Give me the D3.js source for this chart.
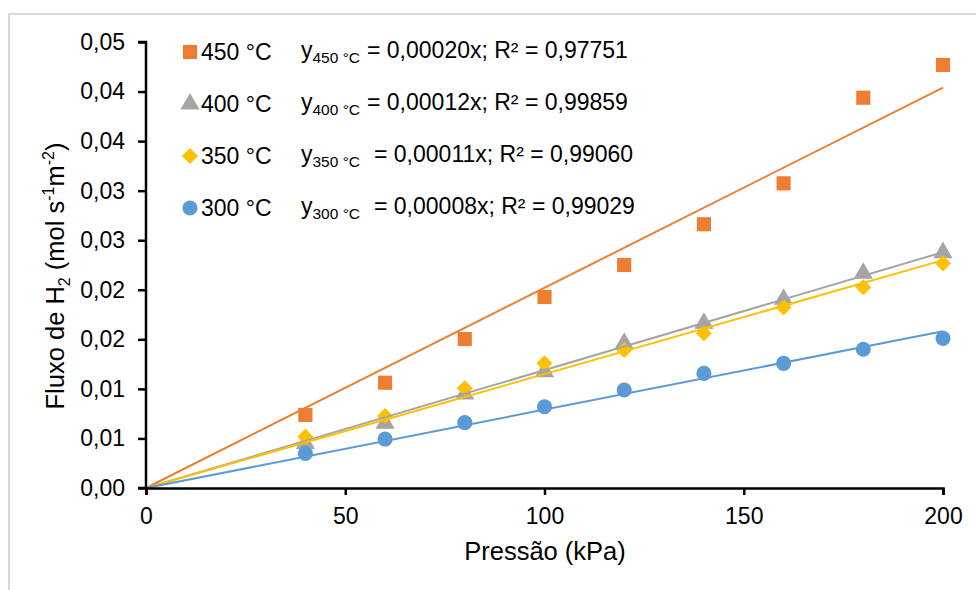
<!DOCTYPE html>
<html>
<head>
<meta charset="utf-8">
<script src="https://cdn.jsdelivr.net/npm/d3@7"></script>
<style>
  html, body { margin: 0; padding: 0; background: #fff; }
  svg { display: block; font-family: "Liberation Sans", Arial, sans-serif; }
</style>
</head>
<body>
<svg id="chart" width="976" height="590"></svg>
<script>
// ---- data ----
const pressures = [40, 60, 80, 100, 120, 140, 160, 180, 200];
const flux450 = [0.00737, 0.01062, 0.01503, 0.01927, 0.02250, 0.02661, 0.03074, 0.03938, 0.04268];
const flux400 = [0.00450, 0.00653, 0.00948, 0.01174, 0.01460, 0.01662, 0.01904, 0.02166, 0.02374];
const flux350 = [0.00518, 0.00726, 0.01006, 0.01258, 0.01392, 0.01561, 0.01823, 0.02025, 0.02267];
const flux300 = [0.00350, 0.00494, 0.00659, 0.00820, 0.00989, 0.01157, 0.01258, 0.01400, 0.01510];
const seriesNames = ["450 °C", "400 °C", "350 °C", "300 °C"];
const subscripts = ["450 °C", "400 °C", "350 °C", "300 °C"];
const equations = ["= 0,00020x; R² = 0,97751", "= 0,00012x; R² = 0,99859", "= 0,00011x; R² = 0,99060", "= 0,00008x; R² = 0,99029"];
const xTicks = [0, 50, 100, 150, 200];
const yTicks = [0, 0.005, 0.010, 0.015, 0.020, 0.025, 0.030, 0.035, 0.040, 0.045];
const yTickLabels = ["0,00", "0,01", "0,01", "0,02", "0,02", "0,03", "0,03", "0,04", "0,04", "0,05"];

// ---- styles ----
const colors = ["#ED7D31", "#A5A5A5", "#FFC000", "#5B9BD5"];
const symbols = [d3.symbolSquare, d3.symbolTriangle, d3.symbolSquare, d3.symbolCircle];
const rotations = [0, 0, 45, 0];
const symSizes = [200, 160, 130, 180];

const series = [flux450, flux400, flux350, flux300].map((vals, i) => ({
  name: seriesNames[i], color: colors[i], symbol: symbols[i], size: symSizes[i], rot: rotations[i],
  points: pressures.map((p, j) => ({x: p, y: vals[j]}))
}));
// least-squares slope through origin
series.forEach(s => {
  const sxy = d3.sum(s.points, d => d.x * d.y);
  const sxx = d3.sum(s.points, d => d.x * d.x);
  s.slope = sxy / sxx;
});

const svg = d3.select("#chart");
const x = d3.scaleLinear().domain([0, 200]).range([146, 943]);
const y = d3.scaleLinear().domain([0, 0.045]).range([488, 42]);

// frame
svg.append("rect").attr("x", 9).attr("y", 14).attr("width", 1000).attr("height", 620)
  .attr("fill", "#fff").attr("stroke", "#D9D9D9").attr("stroke-width", 2);

// markers (series order, later on top)
series.forEach(s => {
  svg.append("g").selectAll("path").data(s.points).join("path")
    .attr("transform", d => `translate(${x(d.x)},${y(d.y)}) rotate(${s.rot})`)
    .attr("d", d3.symbol().type(s.symbol).size(s.size))
    .attr("fill", s.color);
});

// trendlines
series.forEach(s => {
  svg.append("line")
    .attr("x1", x(0)).attr("y1", y(0))
    .attr("x2", x(200)).attr("y2", y(s.slope * 200))
    .attr("stroke", s.color).attr("stroke-width", 2);
});

// axes
const yAxis = d3.axisLeft(y).tickValues(yTicks).tickSize(8).tickPadding(13)
  .tickFormat((d, i) => yTickLabels[i]);
const gy = svg.append("g").attr("transform", `translate(${x(0)},0)`).call(yAxis);
const xAxis = d3.axisBottom(x).tickValues(xTicks).tickSize(7).tickPadding(13);
const gx = svg.append("g").attr("transform", `translate(0,${y(0)})`).call(xAxis);
[gx, gy].forEach(g => {
  g.select(".domain").attr("stroke", "#000").attr("stroke-width", 2.5);
  g.selectAll(".tick line").attr("stroke", "#000").attr("stroke-width", 2.5);
  g.selectAll(".tick text").attr("fill", "#000").attr("font-size", 23)
    .attr("font-family", "'Liberation Sans', Arial, sans-serif");
});
gy.select(".domain").attr("d", `M-8,${y(0)}H0V${y(0.045)}H-8`);

// axis titles
svg.append("text").attr("x", 545).attr("y", 560).attr("text-anchor", "middle")
  .attr("font-size", 25.5).attr("fill", "#000").text("Pressão (kPa)");

const yt = svg.append("text").attr("transform", "translate(64,276) rotate(-90)")
  .attr("text-anchor", "middle").attr("font-size", 25.5).attr("fill", "#000");
yt.append("tspan").text("Fluxo de H");
yt.append("tspan").attr("font-size", 16).attr("dy", 6).text("2");
yt.append("tspan").attr("dy", -6).text(" (mol s");
yt.append("tspan").attr("font-size", 16).attr("dy", -10).text("-1");
yt.append("tspan").attr("dy", 10).text("m");
yt.append("tspan").attr("font-size", 16).attr("dy", -10).text("-2");
yt.append("tspan").attr("dy", 10).text(")");

// legend
const rowY = [60, 112, 164, 216];
const eqX = [367, 367, 374, 374];
series.forEach((s, i) => {
  const g = svg.append("g");
  g.append("path").attr("transform", `translate(190,${rowY[i] - 8}) rotate(${s.rot})`)
    .attr("d", d3.symbol().type(s.symbol).size(s.size)).attr("fill", s.color);
  g.append("text").attr("x", 201).attr("y", rowY[i]).attr("font-size", 23)
    .attr("fill", "#000").text(s.name);
  const eq = g.append("text").attr("x", 301).attr("y", rowY[i] - 2).attr("font-size", 23).attr("fill", "#000");
  eq.append("tspan").text("y");
  eq.append("tspan").attr("font-size", 15.5).attr("dy", 5).text(subscripts[i]);
  g.append("text").attr("x", eqX[i]).attr("y", rowY[i] - 2).attr("font-size", 23)
    .attr("fill", "#000").text(equations[i]);
});
</script>
</body>
</html>
